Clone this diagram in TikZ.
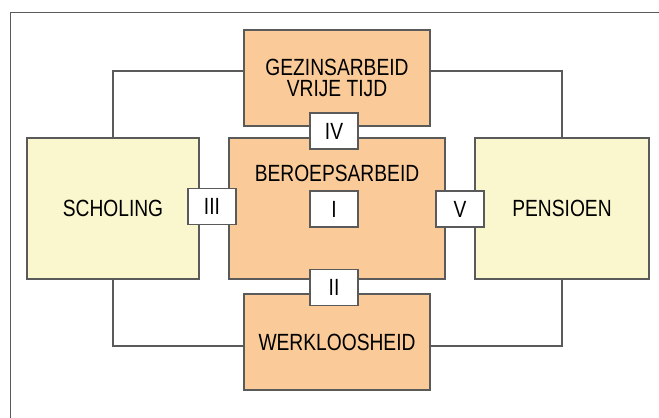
\documentclass[tikz,border=0pt]{standalone}
\usepackage{fontspec}
\setmainfont{Liberation Sans}[FakeStretch=0.82]
\definecolor{peach}{RGB}{250,203,153}
\definecolor{cream}{RGB}{250,246,206}
\definecolor{edgegray}{RGB}{90,90,90}
\begin{document}
\begin{tikzpicture}
        [x=0.03cm, y=-0.03cm,
        box/.style={rectangle, draw=edgegray, line width=0.9pt, inner sep=0pt, outer sep=0pt,
            font=\fontsize{20}{18}\selectfont, align=center},
        work/.style={box, fill=peach},
        phase/.style={box, fill=cream, minimum height=4.23cm},
        tag/.style={box, fill=white, minimum width=1.44cm, minimum height=1.08cm},
        link/.style={edgegray, line width=0.9pt}]

        \clip (0,0) rectangle (659,418);
        % outer frame (runs off the page on the right and below)
        \draw[edgegray, line width=0.8pt] (10,12) rectangle (700,460);

        \node[phase, minimum width=5.16cm] (scholing) at (113,208.5) {SCHOLING};
        \node[phase, minimum width=5.22cm] (pensioen) at (562,208.5) {PENSIOEN};
        \node[work, minimum width=6.48cm, minimum height=4.23cm] (beroeps) at (337,208.5) {};
        \node[font=\fontsize{20}{18}\selectfont] (beroepstxt) at (337,173) {BEROEPSARBEID};
        \node[work, minimum width=5.58cm, minimum height=2.88cm] (gezin) at (337,78) {GEZINSARBEID\\VRIJE TIJD};
        \node[work, minimum width=5.58cm, minimum height=2.88cm] (werk) at (337,342) {WERKLOOSHEID};

        % connections round the middle
        \draw[link] ([yshift=0.21cm]gezin.west) -| (scholing.north);
        \draw[link] ([yshift=0.21cm]gezin.east) -| (pensioen.north);
        \draw[link] ([yshift=-0.12cm]werk.west) -| (scholing.south);
        \draw[link] ([yshift=-0.12cm]werk.east) -| (pensioen.south);

        % transitions
        \node[tag] (t1) at (334,209) {I};
        \node[tag] (t2) at (334,287.5) {II};
        \node[tag] (t3) at (212,206.5) {III};
        \node[tag] (t4) at (334,131) {IV};
        \node[tag] (t5) at (460,209) {V};

    \end{tikzpicture}
\end{document}
